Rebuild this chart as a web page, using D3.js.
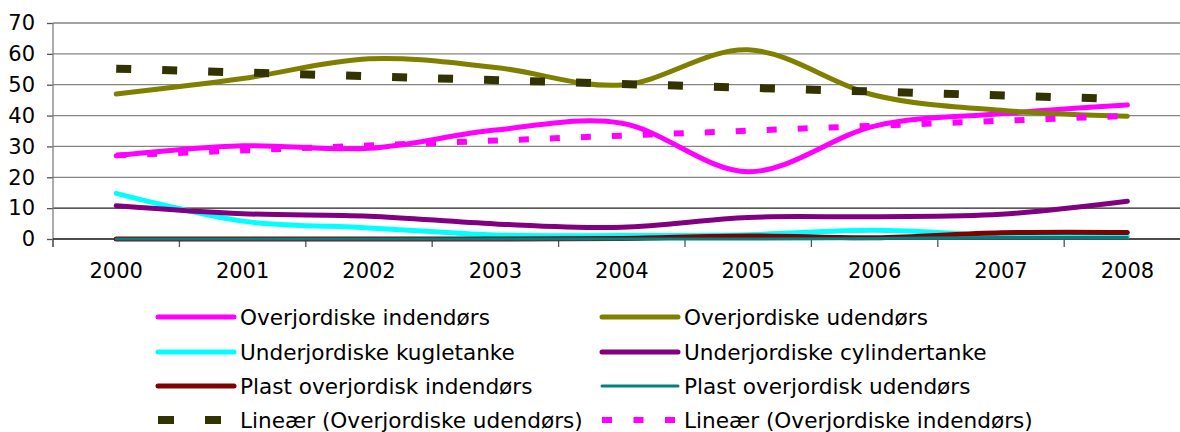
<!DOCTYPE html>
<html>
<head>
<meta charset="utf-8">
<script src="https://cdn.jsdelivr.net/npm/d3@7"></script>
<style>
  body { margin: 0; background: #fff; }
  svg { display: block; font-family: "DejaVu Sans", Verdana, sans-serif; }
</style>
</head>
<body>
<svg id="chart" width="1180" height="432"></svg>
<script>
// data
var years = ["2000", "2001", "2002", "2003", "2004", "2005", "2006", "2007", "2008"];
var yTicks = [0, 10, 20, 30, 40, 50, 60, 70];

var overIndendors = [27, 30.2, 29.4, 35.3, 37.5, 21.8, 36.6, 40.6, 43.4];
var overUdendors = [47, 52.0, 58.4, 55.6, 49.9, 61.3, 46.6, 41.7, 39.8];
var underKugle = [14.8, 5.8, 3.6, 1.3, 1.1, 1.4, 2.8, 1.1, 0.8];
var underCylinder = [10.8, 8.2, 7.4, 4.9, 3.8, 7.0, 7.2, 8.0, 12.2];
var plastIndendors = [0, 0, 0, 0, 0.2, 1.0, 0.4, 2.0, 2.1];
var plastUdendors = [0, 0, 0, 0, 0, 0, 0.2, 0.5, 0.5];

// linear trend lines (values at 2000 and 2008)
var trendUdendors = [55.2, 45.3];
var trendIndendors = [27.1, 39.9];

var series = [
    { name: "Overjordiske indendørs", values: overIndendors, color: "#ff00ff", width: 5 },
    { name: "Overjordiske udendørs", values: overUdendors, color: "#808000", width: 5 },
    { name: "Underjordiske kugletanke", values: underKugle, color: "#00ffff", width: 5 },
    { name: "Underjordiske cylindertanke", values: underCylinder, color: "#800080", width: 5 },
    { name: "Plast overjordisk indendørs", values: plastIndendors, color: "#800000", width: 5 },
    { name: "Plast overjordisk udendørs", values: plastUdendors, color: "#008080", width: 3 }
];
var trends = [
    { name: "Lineær (Overjordiske udendørs)", values: trendUdendors, color: "#333300", width: 8, dash: "15,31" },
    { name: "Lineær (Overjordiske indendørs)", values: trendIndendors, color: "#ff00ff", width: 6, dash: "10,21" }
];

var svg = d3.select("#chart");
var plotLeft = 53, bandW = 126.4, plotTop = 23, plotBottom = 239;

var x = d3.scaleBand().domain(years).range([plotLeft, plotLeft + bandW * years.length]);
var y = d3.scaleLinear().domain([0, 70]).range([plotBottom, plotTop]);
var cx = function(yr) { return x(yr) + x.bandwidth() / 2; };

// grid lines
svg.append("g").selectAll("line")
    .data(yTicks.filter(function(d) { return d > 0; }))
    .enter().append("line")
    .attr("x1", plotLeft).attr("x2", 1180)
    .attr("y1", function(d) { return y(d); }).attr("y2", function(d) { return y(d); })
    .attr("stroke", function(d) { return d == 10 ? "#222" : "#858585"; })
    .attr("stroke-width", 1.3);

// y axis
var yAxis = svg.append("g")
    .attr("transform", "translate(" + plotLeft + ",0)")
    .call(d3.axisLeft(y).tickValues(yTicks).tickSize(6).tickPadding(12));
yAxis.select(".domain").remove();
yAxis.append("line").attr("x1", 0).attr("x2", 0).attr("y1", plotTop).attr("y2", plotBottom + 8)
    .attr("stroke", "#808080").attr("stroke-width", 1.3);
yAxis.selectAll(".tick line").attr("stroke", "#555").attr("stroke-width", 1.3);
yAxis.selectAll(".tick text")
    .attr("font-size", 21).attr("fill", "#000")
    .attr("font-family", "DejaVu Sans, Verdana, sans-serif");

// x axis
var xAxis = svg.append("g")
    .attr("transform", "translate(0," + plotBottom + ")")
    .call(d3.axisBottom(x).tickSize(0).tickPadding(24));
xAxis.select(".domain").remove();
xAxis.append("line").attr("x1", plotLeft).attr("x2", 1180).attr("y1", 0).attr("y2", 0)
    .attr("stroke", "#111").attr("stroke-width", 1.3);
xAxis.selectAll(".tick text")
    .attr("font-size", 21).attr("fill", "#000")
    .attr("font-family", "DejaVu Sans, Verdana, sans-serif");
xAxis.selectAll(".boundary")
    .data(years)
    .enter().append("line")
    .attr("class", "boundary")
    .attr("x1", function(d) { return x(d); }).attr("x2", function(d) { return x(d); })
    .attr("y1", 0).attr("y2", 8)
    .attr("stroke", "#555").attr("stroke-width", 1.3);

// smoothed series
var line = d3.line()
    .x(function(d, i) { return cx(years[i]); })
    .y(function(d) { return y(d); })
    .curve(d3.curveCatmullRom.alpha(0));

svg.append("g").selectAll("path")
    .data(series)
    .enter().append("path")
    .attr("d", function(s) { return line(s.values); })
    .attr("fill", "none")
    .attr("stroke", function(s) { return s.color; })
    .attr("stroke-width", function(s) { return s.width; })
    .attr("stroke-linecap", "round")
    .attr("stroke-linejoin", "round");

// trend lines
var trendYears = [years[0], years[years.length - 1]];
var tline = d3.line()
    .x(function(d, i) { return cx(trendYears[i]); })
    .y(function(d) { return y(d); });

svg.append("g").selectAll("path")
    .data(trends)
    .enter().append("path")
    .attr("d", function(t) { return tline(t.values); })
    .attr("fill", "none")
    .attr("stroke", function(t) { return t.color; })
    .attr("stroke-width", function(t) { return t.width; })
    .attr("stroke-dasharray", function(t) { return t.dash; });

// legend
var legendItems = [series[0], series[1], series[2], series[3], series[4], series[5], trends[0], trends[1]];
var rowY = [317, 352, 386, 420];
var colX = [158, 602];
var legend = svg.append("g").selectAll("g")
    .data(legendItems)
    .enter().append("g")
    .attr("transform", function(d, i) {
        return "translate(" + colX[i % 2] + "," + rowY[Math.floor(i / 2)] + ")";
    });

legend.append("line")
    .attr("x1", 0).attr("x2", function(d) { return d.dash ? (d.width == 8 ? 63 : 74) : 76; })
    .attr("y1", 0).attr("y2", 0)
    .attr("stroke", function(d) { return d.color; })
    .attr("stroke-width", function(d) { return d.width; })
    .attr("stroke-linecap", function(d) { return d.dash ? "butt" : "round"; })
    .attr("stroke-dasharray", function(d) { return d.dash ? (d.width == 8 ? "16,31" : "10,21.5") : null; });

legend.append("text")
    .attr("x", 82).attr("y", 0).attr("dy", "0.36em")
    .attr("font-size", 21.6).attr("fill", "#000")
    .text(function(d) { return d.name; });
</script>
</body>
</html>
